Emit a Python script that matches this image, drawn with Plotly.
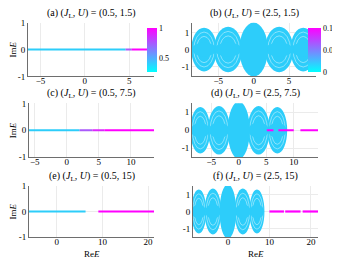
import plotly.graph_objects as go

# ---------------- data ----------------
titles = ["(a) (<i>J</i><sub>L</sub>, <i>U</i>) = (0.5, 1.5)",
          "(b) (<i>J</i><sub>L</sub>, <i>U</i>) = (2.5, 1.5)",
          "(c) (<i>J</i><sub>L</sub>, <i>U</i>) = (0.5, 7.5)",
          "(d) (<i>J</i><sub>L</sub>, <i>U</i>) = (2.5, 7.5)",
          "(e) (<i>J</i><sub>L</sub>, <i>U</i>) = (0.5, 15)",
          "(f) (<i>J</i><sub>L</sub>, <i>U</i>) = (2.5, 15)"]

x_ranges = [[-6.4, 7.8], [-8.7, 8.8], [-5.9, 13.6], [-8.5, 14.4], [-6.1, 21.3], [-8.4, 21.7]]
y_ranges = [[-1, 1], [-1.6, 1.6], [-1, 1], [-1.5, 1.5], [-1, 1], [-1.5, 1.5]]
x_ticks = [[-5, 0, 5], [-5, 0, 5], [-5, 0, 5, 10], [-5, 0, 5, 10], [0, 10, 20], [0, 10, 20]]
y_ticks = [-1, 0, 1]

# real-line spectra segments (start, end, colour class) per panel
a_start = [-6.4, 4.6, 5.3]
a_end = [4.6, 5.3, 7.8]
a_cls = ["bulk", "mix", "edge"]

b_start = [8.6]
b_end = [8.8]
b_cls = ["mix"]

c_start = [-5.9, 2.0, 4.0, 5.9]
c_end = [2.0, 4.0, 5.9, 13.6]
c_cls = ["bulk", "mix", "mix2", "edge"]

d_start = [5.1, 7.2, 11.2]
d_end = [6.3, 10.0, 14.4]
d_cls = ["edge", "edge", "edge"]

e_start = [-6.1, 9.1]
e_end = [6.3, 21.3]
e_cls = ["bulk", "edge"]

f_start = [10.0, 13.8, 18.0]
f_end = [13.5, 17.5, 21.7]
f_cls = ["edge", "edge", "edge"]

# complex bulk clouds (ellipse lobes) for the J_L = 2.5 panels
lobe_cx = [-7.0, -3.6, 0.0, 3.6, 7.0]
lobe_rx = [1.8, 2.0, 2.0, 2.0, 1.8]
lobe_ry = [1.3, 1.35, 1.6, 1.35, 1.3]

# colorbars
cb_a_range = [0.25, 1.0]
cb_a_ticks = [0.5, 1]
cb_b_range = [0.0, 0.1]
cb_b_ticks = [0, 0.05, 0.1]

# ---------------- style ----------------
W, H = 340, 258
FONT = "Liberation Serif"
BLUE = "rgb(45,205,250)"
CLS_COLOR = {"bulk": BLUE, "mix": "rgb(170,90,250)", "mix2": "rgb(220,40,252)",
             "edge": "rgb(255,0,255)"}
COOL = [[0, "rgb(0,255,255)"], [1, "rgb(255,0,255)"]]

# pixel boxes (left, right, top, bottom)
boxes = [(20, 146, 10, 66), (184, 308, 10, 66),
         (21, 146, 94, 150), (184, 310, 94, 150),
         (21, 146, 180, 233), (185, 310, 180, 233)]

fig = go.Figure()
segs = [(a_start, a_end, a_cls), (b_start, b_end, b_cls), (c_start, c_end, c_cls),
        (d_start, d_end, d_cls), (e_start, e_end, e_cls), (f_start, f_end, f_cls)]

layout = dict(width=W, height=H, margin=dict(l=0, r=0, t=0, b=0),
              paper_bgcolor="white", plot_bgcolor="white", showlegend=False,
              font=dict(family=FONT, size=9, color="black"))
shapes = []
annotations = []

for i, (l, r, t, b) in enumerate(boxes):
    k = i + 1
    xa = "xaxis" if k == 1 else f"xaxis{k}"
    ya = "yaxis" if k == 1 else f"yaxis{k}"
    xr = "x" if k == 1 else f"x{k}"
    yr = "y" if k == 1 else f"y{k}"
    layout[xa] = dict(domain=[l / W, r / W], range=x_ranges[i], anchor=yr,
                      tickvals=x_ticks[i], showgrid=True, gridcolor="#ebebeb",
                      gridwidth=1, zeroline=False, showline=True, linecolor="#6e6e6e",
                      linewidth=1, ticks="", ticklabelstandoff=-4,
                      tickfont=dict(family=FONT, size=9), fixedrange=True)
    layout[ya] = dict(domain=[1 - b / H, 1 - t / H], range=y_ranges[i], anchor=xr,
                      tickvals=y_ticks, ticktext=["-1", "0", "1"], showgrid=True,
                      gridcolor="#ebebeb", gridwidth=1, zeroline=False, showline=True,
                      linecolor="#6e6e6e", linewidth=1, ticks="",
                      tickfont=dict(family=FONT, size=9), fixedrange=True)

    # cloud lobes for right column
    if i % 2 == 1:
        order = [0, 4, 1, 3, 2]
        for j in order:
            cx, rx, ry = lobe_cx[j], lobe_rx[j], lobe_ry[j]
            shapes.append(dict(type="circle", xref=xr, yref=yr, layer="between",
                               x0=cx - rx, x1=cx + rx, y0=-ry, y1=ry,
                               fillcolor=BLUE, line=dict(width=0)))
            if j != 2:
                for s in (0.6, 0.8):
                    shapes.append(dict(type="circle", xref=xr, yref=yr, layer="between",
                                       x0=cx - rx * s, x1=cx + rx * s,
                                       y0=-ry * s, y1=ry * s, fillcolor="rgba(0,0,0,0)",
                                       line=dict(width=0.5, color="rgba(255,255,255,0.85)")))
                shapes.append(dict(type="circle", xref=xr, yref=yr, layer="between",
                                   x0=cx - rx * 0.95, x1=cx + rx * 0.95,
                                   y0=-ry * 0.32, y1=ry * 0.32,
                                   fillcolor=BLUE, line=dict(width=0)))

    st, en, cl = segs[i]
    for s0, s1, c in zip(st, en, cl):
        fig.add_trace(go.Scatter(x=[s0, s1], y=[0, 0], mode="lines",
                                 line=dict(color=CLS_COLOR[c], width=2.2),
                                 xaxis=xr, yaxis=yr, hoverinfo="skip"))

    annotations.append(dict(text=titles[i], xref="paper", yref="paper",
                            x=(l + r) / 2 / W, y=1 - (t - 1) / H, xanchor="center",
                            yanchor="bottom", showarrow=False,
                            font=dict(family=FONT, size=10)))
    if i % 2 == 0:
        annotations.append(dict(text="Im<i>E</i>", xref="paper", yref="paper",
                                x=5 / W, y=1 - (t + b) / 2 / H, textangle=-90,
                                xanchor="center", yanchor="middle", showarrow=False,
                                font=dict(family=FONT, size=9)))
    if i >= 4:
        annotations.append(dict(text="Re<i>E</i>", xref="paper", yref="paper",
                                x=(l + r) / 2 / W, y=1 - 251 / H, xanchor="center",
                                yanchor="middle", showarrow=False,
                                font=dict(family=FONT, size=9)))

# colorbars (dummy traces)
fig.add_trace(go.Scatter(x=[None], y=[None], mode="markers", xaxis="x", yaxis="y",
                         marker=dict(color=[cb_a_range[0]], cmin=cb_a_range[0],
                                     cmax=cb_a_range[1], colorscale=COOL, showscale=True,
                                     colorbar=dict(x=139 / W, xanchor="left",
                                                   y=1 - 39 / H, yanchor="middle",
                                                   len=46 / H, lenmode="fraction",
                                                   thickness=10, outlinewidth=0,
                                                   xpad=0, ypad=0, tickvals=cb_a_ticks,
                                                   ticktext=["0.5", "1"], ticks="",
                                                   tickfont=dict(family=FONT, size=8)))))
fig.add_trace(go.Scatter(x=[None], y=[None], mode="markers", xaxis="x2", yaxis="y2",
                         marker=dict(color=[cb_b_range[0]], cmin=cb_b_range[0],
                                     cmax=cb_b_range[1], colorscale=COOL, showscale=True,
                                     colorbar=dict(x=300 / W, xanchor="left",
                                                   y=1 - 39 / H, yanchor="middle",
                                                   len=46 / H, lenmode="fraction",
                                                   thickness=13, outlinewidth=0,
                                                   xpad=0, ypad=0, tickvals=cb_b_ticks,
                                                   ticktext=["0", "0.05", "0.1"], ticks="",
                                                   tickfont=dict(family=FONT, size=8)))))

layout["shapes"] = shapes
layout["annotations"] = annotations
fig.update_layout(**layout)
fig.write_html("out.html", config={"displayModeBar": False})
